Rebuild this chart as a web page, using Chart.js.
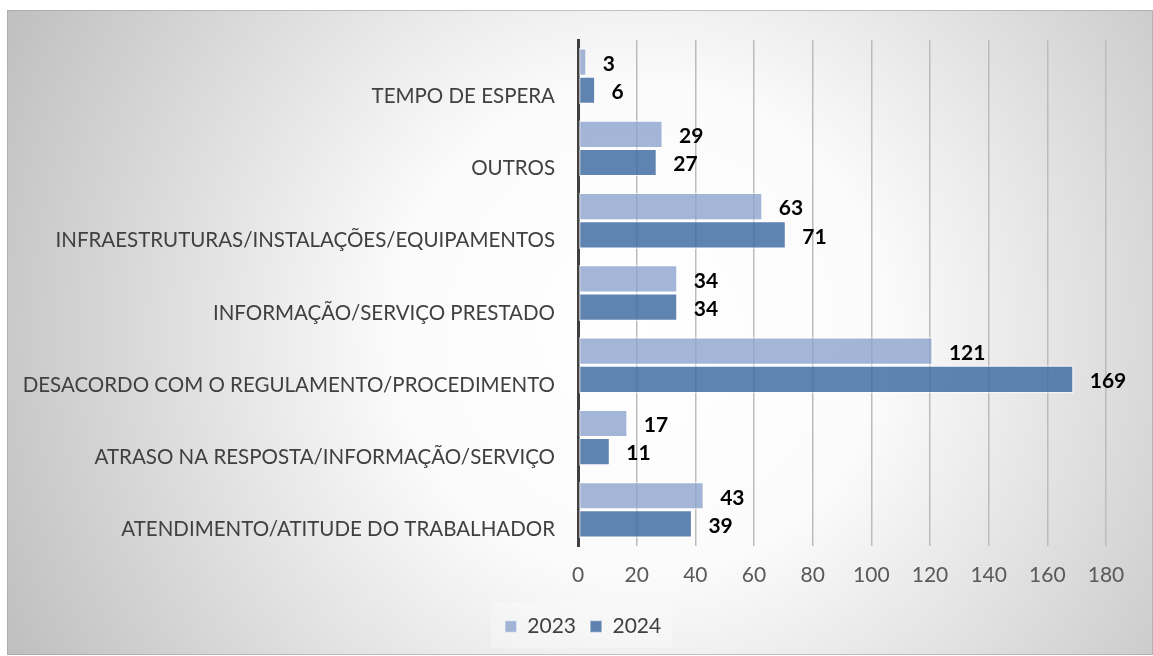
<!DOCTYPE html>
<html>
<head>
<meta charset="utf-8">
<script src="https://cdn.jsdelivr.net/npm/chart.js@4"></script>
<style>
html,body{margin:0;padding:0;background:#fff;}
#wrap{width:1153px;height:656px;position:relative;}
</style>
</head>
<body>
<div id="wrap"><canvas id="c" width="1153" height="656"></canvas></div>
<script>
const categories = [
  "TEMPO DE ESPERA",
  "OUTROS",
  "INFRAESTRUTURAS/INSTALAÇÕES/EQUIPAMENTOS",
  "INFORMAÇÃO/SERVIÇO PRESTADO",
  "DESACORDO COM O REGULAMENTO/PROCEDIMENTO",
  "ATRASO NA RESPOSTA/INFORMAÇÃO/SERVIÇO",
  "ATENDIMENTO/ATITUDE DO TRABALHADOR"
];
const values2023 = [3, 29, 63, 34, 121, 17, 43];
const values2024 = [6, 27, 71, 34, 169, 11, 39];
const seriesNames = ["2023", "2024"];
const xTicks = [0, 20, 40, 60, 80, 100, 120, 140, 160, 180];

const FONT = "Lato, 'Open Sans', sans-serif";

const bgPlugin = {
  id: 'bg',
  beforeDraw(chart) {
    const ctx = chart.ctx;
    const W = chart.width, H = chart.height;
    ctx.save();
    ctx.fillStyle = '#ffffff';
    ctx.fillRect(0, 0, W, H);
    const x0 = 7, y0 = 10;
    const g = ctx.createRadialGradient(640, 330, 0, 640, 330, 700);
    g.addColorStop(0, '#ffffff');
    g.addColorStop(0.35, '#fbfbfb');
    g.addColorStop(1, '#c0c0c0');
    ctx.fillStyle = g;
    ctx.fillRect(x0, y0, W - x0, H - y0 - 1);
    ctx.strokeStyle = 'rgba(160,160,160,0.6)';
    ctx.lineWidth = 1;
    ctx.strokeRect(x0 + 0.5, y0 + 0.5, W - x0 - 1, H - y0 - 2);
    ctx.fillStyle = 'rgba(255,255,255,0.25)';
    ctx.fillRect(491, 602, 181, 46);
    ctx.restore();
  }
};

const legendShift = {
  id: 'legendShift',
  afterLayout(chart) {
    const lg = chart.legend;
    if (!lg) return;
    lg.left += 26; lg.right += 26;
    lg.adjustHitBoxes();
  }
};

const labelPlugin = {
  id: 'vlabels',
  afterDatasetsDraw(chart) {
    const ctx = chart.ctx;
    ctx.save();
    ctx.font = "bold 21px " + FONT;
    ctx.fillStyle = '#000000';
    ctx.textAlign = 'left';
    ctx.textBaseline = 'middle';
    chart.data.datasets.forEach((ds, di) => {
      const meta = chart.getDatasetMeta(di);
      meta.data.forEach((bar, i) => {
        ctx.fillText(String(ds.data[i]), bar.x + 16, bar.y + 2);
      });
    });
    ctx.restore();
  }
};

new Chart(document.getElementById('c'), {
  type: 'bar',
  data: {
    labels: categories,
    datasets: [
      {
        label: seriesNames[0],
        data: values2023,
        backgroundColor: 'rgba(140,164,206,0.8)',
        borderColor: 'rgba(255,255,255,0.55)',
        borderWidth: 1.5,
        borderSkipped: false
      },
      {
        label: seriesNames[1],
        data: values2024,
        backgroundColor: 'rgba(68,110,164,0.85)',
        borderColor: 'rgba(255,255,255,0.55)',
        borderWidth: 1.5,
        borderSkipped: false
      }
    ]
  },
  options: {
    indexAxis: 'y',
    responsive: false,
    devicePixelRatio: 1,
    animation: false,
    layout: { padding: { left: 8, right: 47, top: 40, bottom: 9 } },
    datasets: { bar: { categoryPercentage: 0.78, barPercentage: 1.0 } },
    scales: {
      x: {
        min: 0, max: 180,
        afterBuildTicks(scale) { scale.ticks = xTicks.map(v => ({ value: v })); },
        grid: { color: '#bcbcbc', lineWidth: 1.5, drawTicks: false },
        border: { display: false },
        ticks: { color: '#595959', font: { family: FONT, size: 21 }, padding: 17 },
        afterFit(scale) { scale.height = 56; }
      },
      y: {
        grid: { display: false },
        border: { display: true, color: '#3f3f3f', width: 3 },
        ticks: { color: '#404040', font: { family: FONT, size: 20.5 }, padding: 15, labelOffset: 20 },
        afterFit(scale) { scale.width = 570; }
      }
    },
    plugins: {
      legend: {
        position: 'bottom',
        labels: {
          color: '#404040',
          font: { family: FONT, size: 21 },
          boxWidth: 12, boxHeight: 12,
          padding: 14
        }
      },
      tooltip: { enabled: false }
    }
  },
  plugins: [bgPlugin, legendShift, labelPlugin]
});
</script>
</body>
</html>
